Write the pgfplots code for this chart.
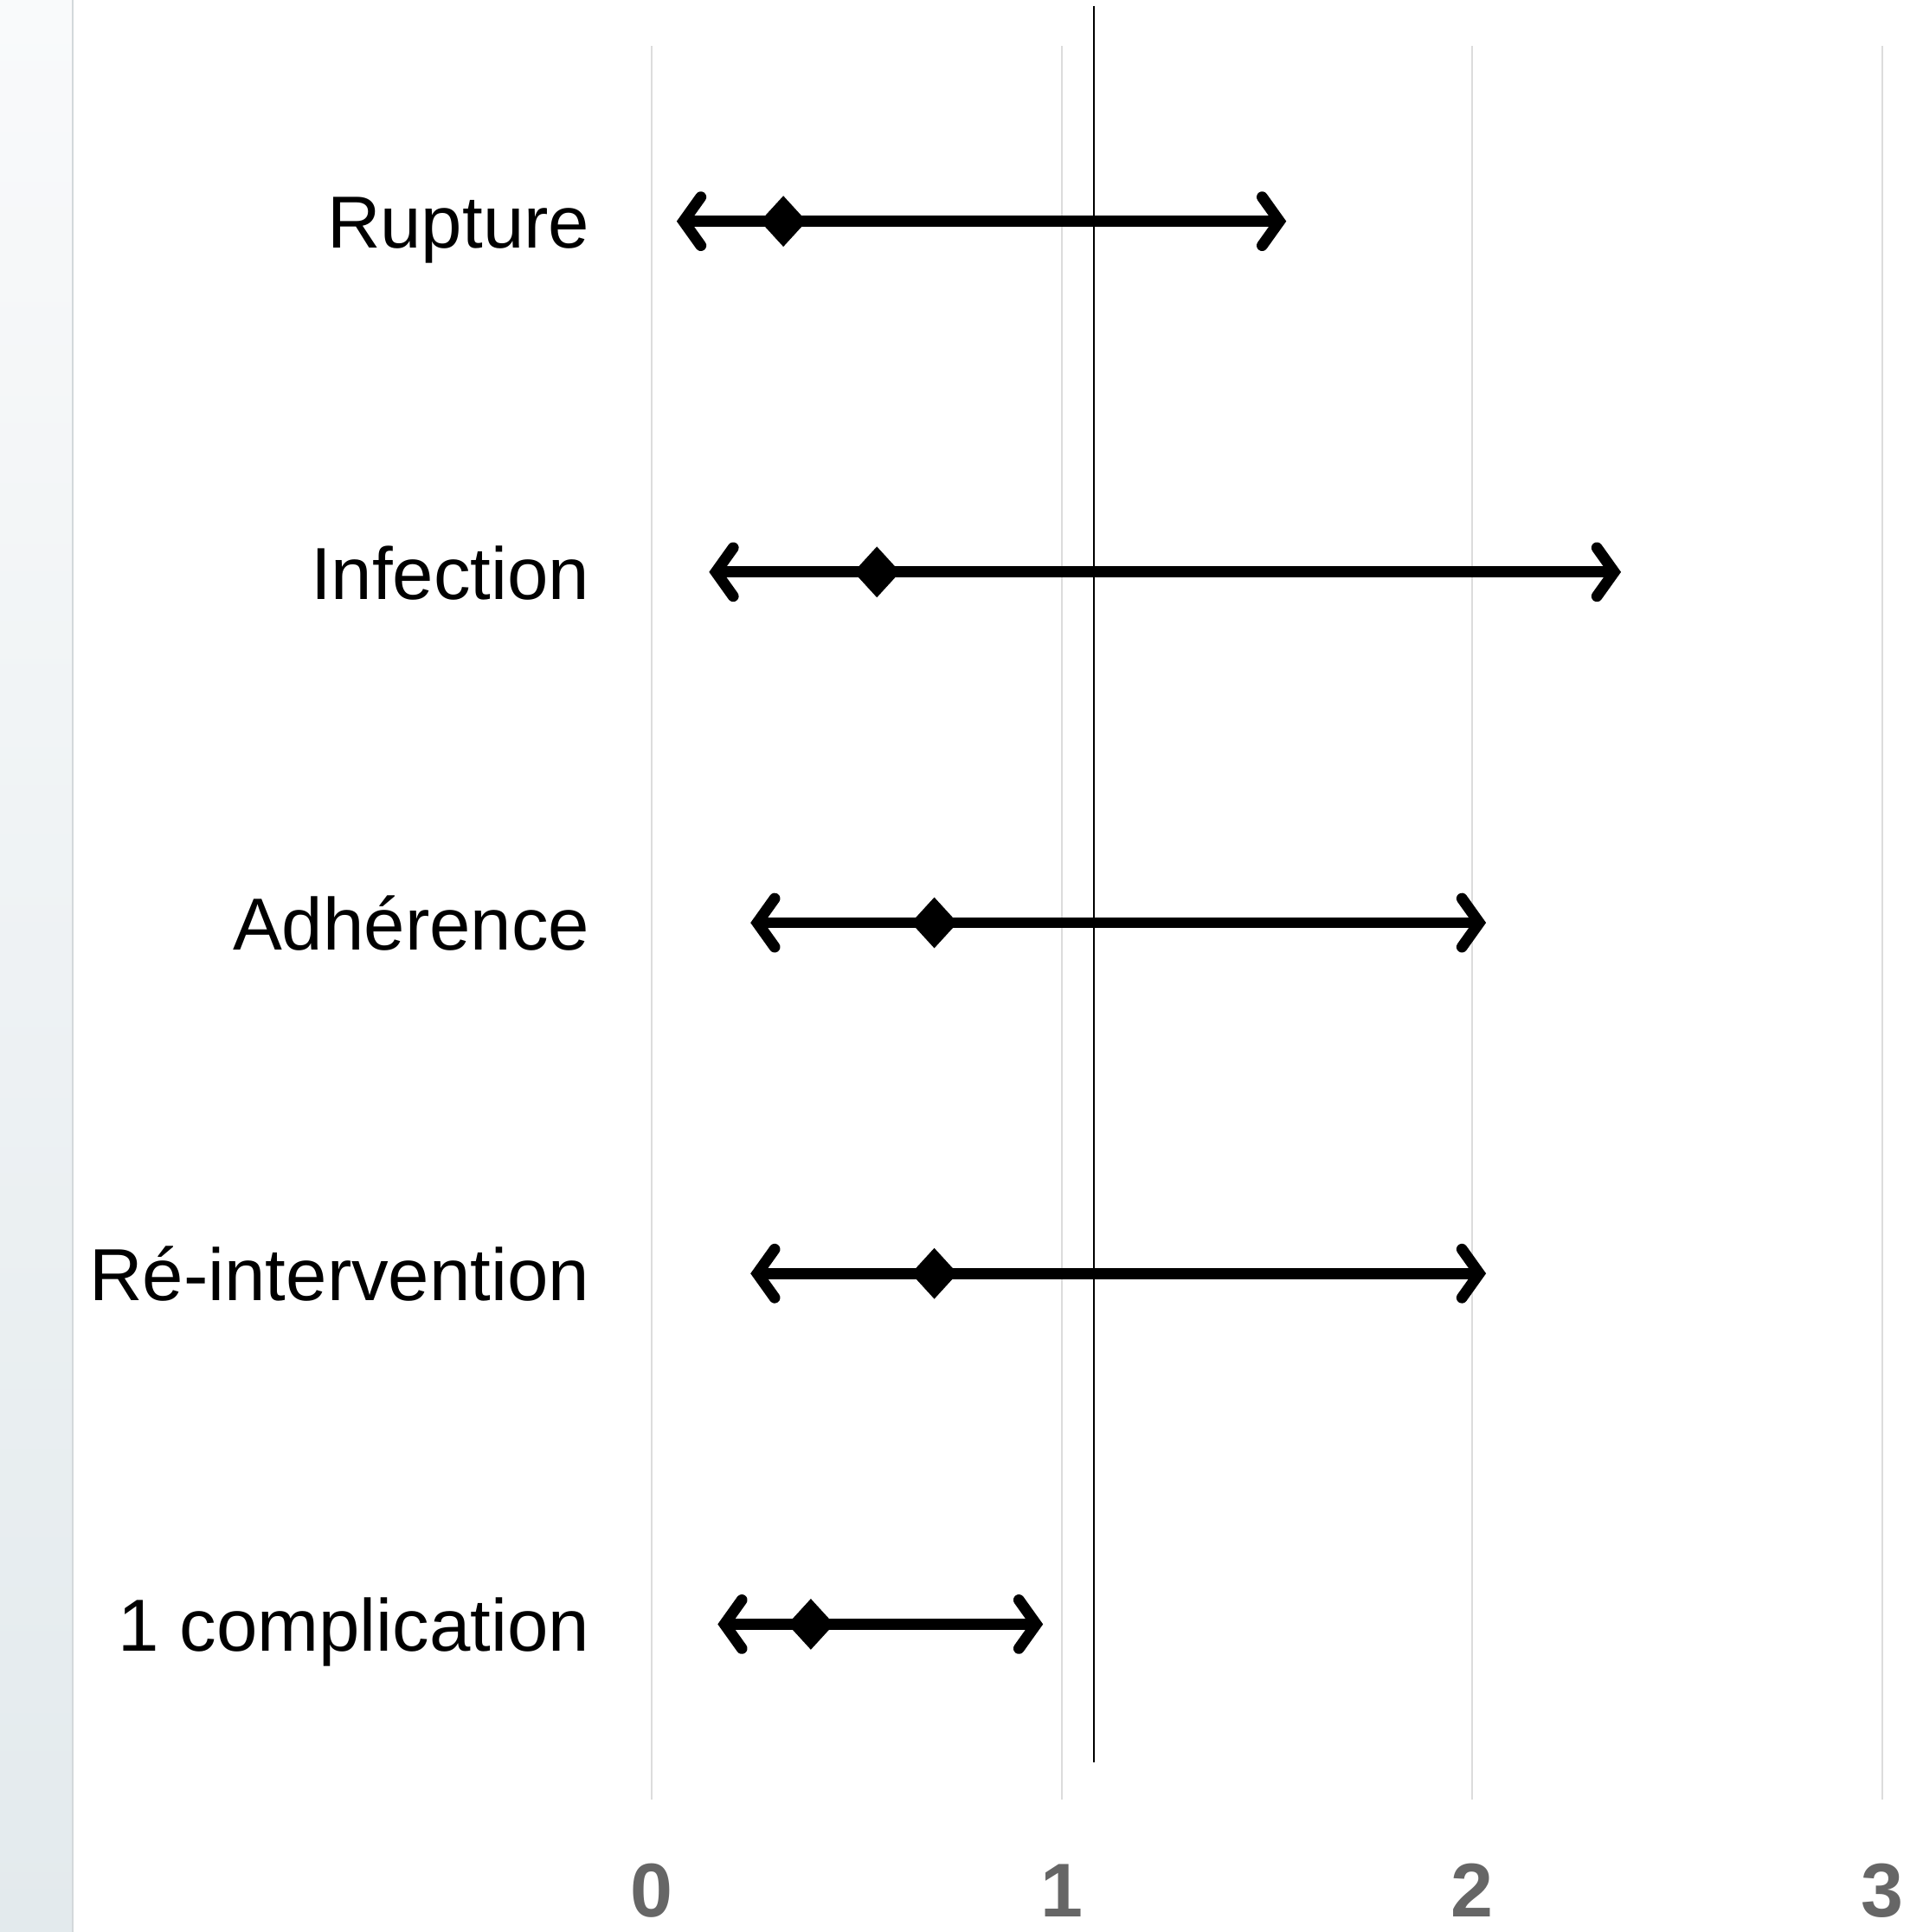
\documentclass[border=0pt]{standalone}
\usepackage{pgfplots}
\pgfplotsset{compat=1.18}
\usetikzlibrary{arrows.meta}
\usepackage{fontspec}
\setmainfont{Liberation Sans}
\definecolor{stripTop}{HTML}{F9FAFB}
\definecolor{stripBot}{HTML}{E3EAED}
\definecolor{stripEdge}{HTML}{D3D8DB}
\definecolor{tickgray}{HTML}{666666}
\definecolor{gridgray}{HTML}{DCDCDC}
\begin{document}
\begin{tikzpicture}
\useasboundingbox (0,0) rectangle (555.5pt,558pt);
\fill[white] (0,0) rectangle (555.5pt,558pt);
\shade[top color=stripTop, bottom color=stripBot] (0,0) rectangle (21pt,558pt);
\draw[stripEdge, line width=0.6pt] (21pt,0) -- (21pt,558pt);
\begin{axis}[
  at={(188.25pt,38.25pt)}, anchor=south west,
  scale only axis, width=355.5pt, height=506.5pt,
  xmin=0, xmax=3, ymin=0.5, ymax=5.5,
  y dir=reverse,
  axis line style={draw=none},
  major tick length=0pt,
  xtick={0,1,2,3}, xticklabels={0,1,2,3},
  ytick={1,2,3,4,5},
  yticklabels={Rupture,Infection,Adhérence,Ré-intervention,1 complication},
  xmajorgrids,
  grid style={gridgray, line width=0.5pt},
  xticklabel style={anchor=base, inner sep=0pt, yshift=-33.75pt,
    font=\fontsize{22}{26}\selectfont\bfseries, text=tickgray},
  yticklabel style={anchor=base east, inner sep=0pt, xshift=-17.75pt, yshift=-7.8pt,
    font=\fontsize{21.3}{26}\selectfont, text=black},
  clip=false,
]
\addplot[black, line width=0.5pt] coordinates {(1.078,0.386) (1.078,5.394)};
\pgfplotsset{ci/.style={black, line width=3.2pt,
  {Straight Barb[length=5pt,width=14pt,line cap=round,line join=miter]}-{Straight Barb[length=5pt,width=14pt,line cap=round,line join=miter]}}}
\addplot[ci] coordinates {(0.061,1) (1.547,1)};
\addplot[ci] coordinates {(0.140,2) (2.363,2)};
\addplot[ci] coordinates {(0.241,3) (2.034,3)};
\addplot[ci] coordinates {(0.241,4) (2.034,4)};
\addplot[ci] coordinates {(0.161,5) (0.954,5)};
\addplot[only marks, mark=diamond*, mark size=6.9pt,
  mark options={fill=black, draw=black, line width=0.6pt, xscale=1.22}]
  coordinates {(0.321,1) (0.549,2) (0.689,3) (0.689,4) (0.388,5)};
\end{axis}
\end{tikzpicture}
\end{document}
